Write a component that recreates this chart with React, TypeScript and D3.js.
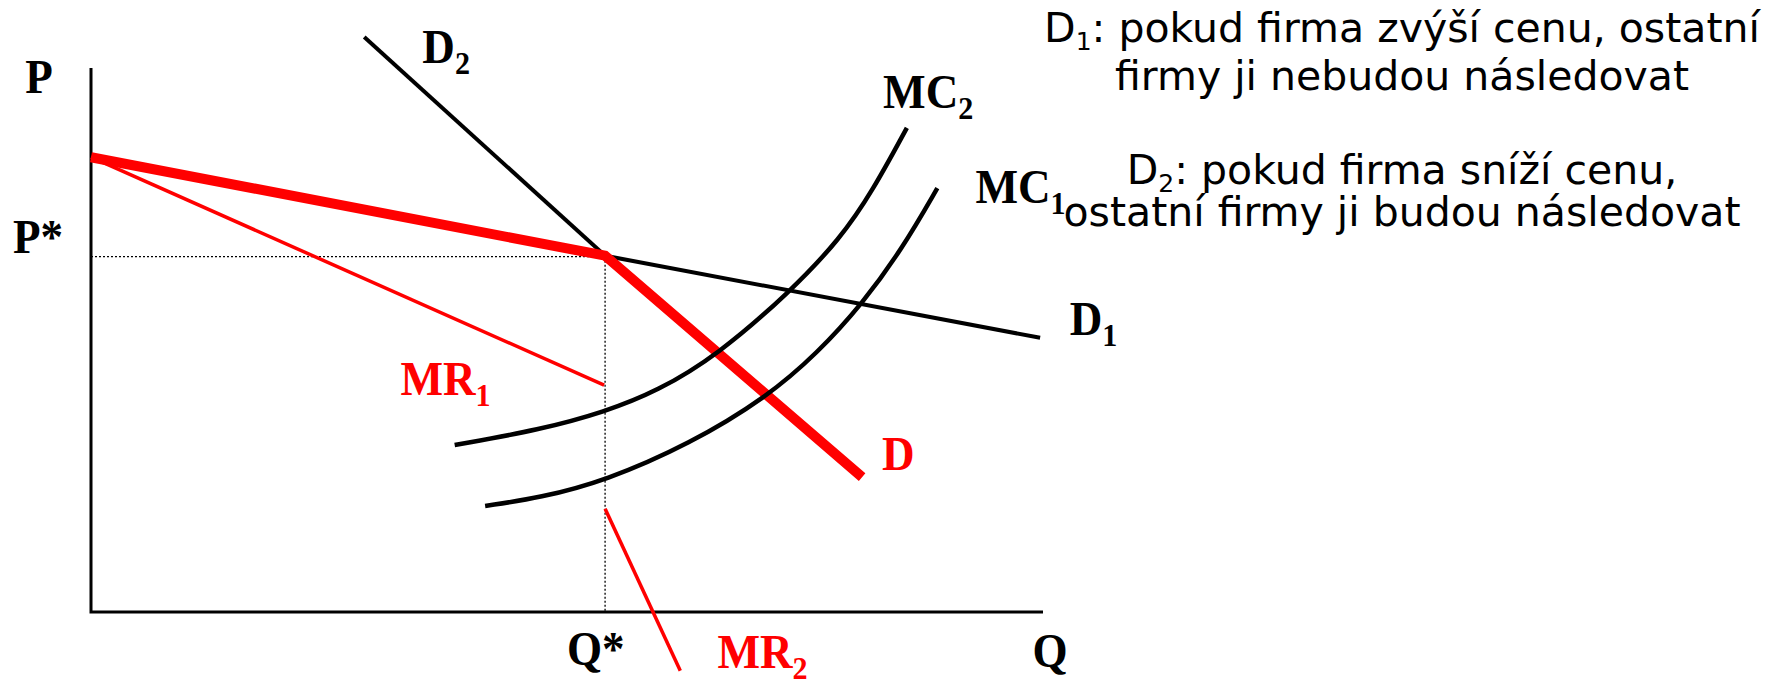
import * as d3 from "d3";

// data space: quantity 0..100, price 0..100
const kink: [number, number] = [54, 65.5];
const demandKinked: [number, number][] = [[0, 83.6], kink, [81.0, 24.8]];
const demand1: [number, number][] = [kink, [99.7, 50.4]];
const demand2: [number, number][] = [[28.7, 105.7], kink];
const mr1: [number, number][] = [[0, 83.6], [53.9, 41.7]];
const mr2: [number, number][] = [[54.0, 19.0], [61.9, -10.8]];
const mc1: [number, number][] = [
  [41.4, 19.5], [47.2, 21.0], [54.0, 24.1], [62.9, 30.9], [71.0, 39.5],
  [76.3, 47.6], [81.0, 56.6], [85.3, 67.0], [88.9, 77.9],
];
const mc2: [number, number][] = [
  [38.2, 30.7], [47.2, 33.5], [54.0, 36.8], [59.5, 40.6], [65.8, 47.2],
  [73.4, 58.8], [78.7, 68.6], [82.1, 77.4], [85.7, 89.0],
];

// curve labels: text, subscript, q, p, colour
const labels: { t: string; sub?: string; q: number; p: number; c: string }[] = [
  { t: "P", q: -6.9, p: 95.4, c: "#000" },
  { t: "P*", q: -8.2, p: 66.0, c: "#000" },
  { t: "D", sub: "2", q: 34.8, p: 100.9, c: "#000" },
  { t: "MC", sub: "2", q: 83.2, p: 92.6, c: "#000" },
  { t: "MC", sub: "1", q: 92.9, p: 75.2, c: "#000" },
  { t: "D", sub: "1", q: 102.8, p: 50.9, c: "#000" },
  { t: "MR", sub: "1", q: 32.5, p: 39.9, c: "#ff0000" },
  { t: "D", q: 83.1, p: 26.1, c: "#ff0000" },
  { t: "Q*", q: 50.0, p: -9.7, c: "#000" },
  { t: "MR", sub: "2", q: 65.8, p: -10.3, c: "#ff0000" },
  { t: "Q", q: 98.9, p: -10.1, c: "#000" },
];

// explanatory notes on the right
const notes: { head?: string; sub?: string; rest: string; y: number }[] = [
  { head: "D", sub: "1", rest: ": pokud firma zvýší cenu, ostatní", y: 42 },
  { rest: "firmy ji nebudou následovat", y: 90 },
  { head: "D", sub: "2", rest: ": pokud firma sníží cenu,", y: 184 },
  { rest: "ostatní firmy ji budou následovat", y: 226 },
];

export default function App() {
  const width = 1783;
  const height = 681;

  const x = d3.scaleLinear().domain([0, 100]).range([91, 1043]);
  const y = d3.scaleLinear().domain([0, 100]).range([612, 68]);

  const line = d3
    .line<[number, number]>()
    .x((d) => x(d[0]))
    .y((d) => y(d[1]));
  const curve = d3
    .line<[number, number]>()
    .x((d) => x(d[0]))
    .y((d) => y(d[1]))
    .curve(d3.curveBasis);

  const axisPath = `M${x(0)},${y(100)}L${x(0)},${y(0)}L${x(100)},${y(0)}`;
  const serif = "'Liberation Serif', 'Times New Roman', serif";

  return (
    <svg
      width={width}
      height={height}
      style={{ position: "absolute", left: 0, top: 0, background: "#fff" }}
    >
      {/* guides to the kink */}
      <line
        x1={x(0)} y1={y(kink[1]) + 1} x2={x(kink[0])} y2={y(kink[1]) + 1}
        stroke="#000" strokeWidth={1.3} strokeDasharray="2 2"
      />
      <line
        x1={x(kink[0])} y1={y(kink[1]) + 1} x2={x(kink[0])} y2={y(0)}
        stroke="#000" strokeWidth={1.3} strokeDasharray="2 2"
      />

      <path d={axisPath} fill="none" stroke="#000" strokeWidth={3} strokeLinejoin="miter" />

      <path d={line(demand2)!} fill="none" stroke="#000" strokeWidth={4} />
      <path d={line(demand1)!} fill="none" stroke="#000" strokeWidth={4} />

      <path d={line(mr1)!} fill="none" stroke="#ff0000" strokeWidth={3.5} />
      <path d={line(mr2)!} fill="none" stroke="#ff0000" strokeWidth={3.5} />
      <path
        d={line(demandKinked)!}
        fill="none"
        stroke="#ff0000"
        strokeWidth={10}
        strokeLinejoin="miter"
      />

      <path d={curve(mc2)!} fill="none" stroke="#000" strokeWidth={4.5} />
      <path d={curve(mc1)!} fill="none" stroke="#000" strokeWidth={4.5} />

      {labels.map((l, i) => (
        <text
          key={i}
          transform={`translate(${x(l.q)},${y(l.p)}) scale(0.94,1)`}
          fontFamily={serif}
          fontWeight="bold"
          fontSize={48}
          fill={l.c}
        >
          {l.t}
          {l.sub && (
            <tspan fontSize={32} dy={11}>
              {l.sub}
            </tspan>
          )}
        </text>
      ))}

      {notes.map((n, i) => (
        <text
          key={"n" + i}
          x={1402}
          y={n.y}
          textAnchor="middle"
          fontFamily="'DejaVu Sans', sans-serif"
          fontSize={41}
          fill="#000"
        >
          {n.head && <tspan>{n.head}</tspan>}
          {n.sub && (
            <tspan fontSize={25} dy={8}>
              {n.sub}
            </tspan>
          )}
          <tspan dy={n.sub ? -8 : 0}>{n.rest}</tspan>
        </text>
      ))}
    </svg>
  );
}
